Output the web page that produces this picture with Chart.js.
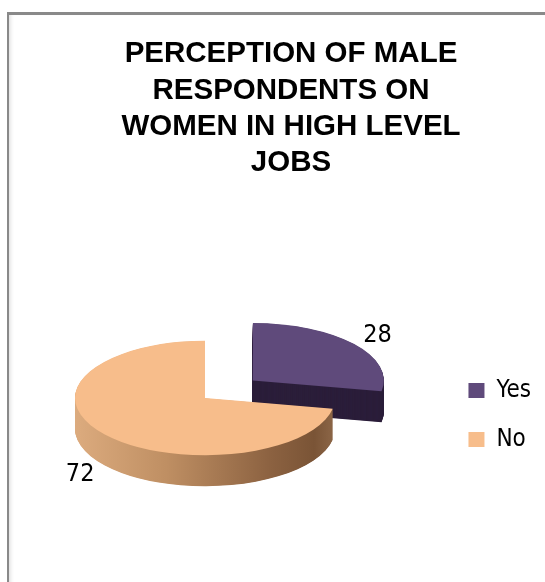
<!DOCTYPE html>
<html>
<head>
<meta charset="utf-8">
<script src="https://cdn.jsdelivr.net/npm/chart.js@4.4.1/dist/chart.umd.min.js"></script>
<style>
  html, body { margin: 0; padding: 0; background: #fff; overflow: hidden; width: 545px; height: 582px; }
  #frame {
    position: absolute; left: 7px; top: 12px; width: 600px; height: 600px;
    border-top: 3px solid #898989; border-left: 2px solid #898989;
    box-shadow: inset 4px 0 4px -3px #d8d8d8;
  }
  #c { position: absolute; left: 0; top: 0; }
</style>
</head>
<body>
<div id="frame"><canvas id="c" width="536" height="567"></canvas></div>
<script>
// ---- data ----
const categories = ['Yes', 'No'];
const values = [28, 72];
const titleLines = ['PERCEPTION OF MALE', 'RESPONDENTS ON', 'WOMEN IN HIGH LEVEL', 'JOBS'];

// ---- style ----
const topColors = ['#5f4a7b', '#f7bd8b'];
const explode = [248, 0];
const TILT = 0.44;      // vertical squash of the 3D view
const DEPTH = 31;       // thickness of the pie
const LABEL_GAP = 32;
const PLOT = { left: 66, right: 326, top: 253, bottom: 513 };
const NARROW = '"Liberation Sans Narrow", "Arial Narrow", "DejaVu Sans Condensed", sans-serif';

const pie3d = {
  id: 'pie3d',
  afterLayout(chart) {
    const a = chart.chartArea;
    a.left = PLOT.left; a.right = PLOT.right; a.top = PLOT.top; a.bottom = PLOT.bottom;
    a.width = PLOT.right - PLOT.left; a.height = PLOT.bottom - PLOT.top;
  },
  beforeDatasetsDraw(chart) {
    const ctx = chart.ctx;
    const meta = chart.getDatasetMeta(0);
    const a = chart.chartArea;
    const cy = (a.top + a.bottom) / 2;
    const cx = (a.left + a.right) / 2;
    const R = meta.data[0].outerRadius;
    const gOrange = ctx.createLinearGradient(cx - R, 0, cx + R, 0);
    gOrange.addColorStop(0, '#dcab7e');
    gOrange.addColorStop(0.35, '#bf8f63');
    gOrange.addColorStop(0.75, '#8c6241');
    gOrange.addColorStop(0.92, '#7a5436');
    gOrange.addColorStop(1, '#8d6748');
    const sides = ['#2b1e3a', gOrange];
    const drawOrder = [0, 1];
    drawOrder.forEach(i => {
      const arc = meta.data[i];
      for (let t = DEPTH; t >= 0; t -= 0.5) {
        const proxy = Object.create(arc);
        proxy.options = Object.assign({}, arc.options, { backgroundColor: t === 0 ? arc.options.backgroundColor : sides[i] });
        ctx.save();
        ctx.translate(0, cy + t);
        ctx.scale(1, TILT);
        ctx.translate(0, -cy);
        Chart.ArcElement.prototype.draw.call(proxy, ctx);
        ctx.restore();
      }
    });
    // value labels
    ctx.save();
    ctx.font = '25px ' + NARROW;
    ctx.fillStyle = '#000';
    ctx.textAlign = 'center';
    ctx.textBaseline = 'middle';
    meta.data.forEach((arc, i) => {
      const h = (arc.startAngle + arc.endAngle) / 2;
      const off = (arc.options.offset || 0) / 4;
      const r = arc.outerRadius + LABEL_GAP + off;
      const px = arc.x + Math.cos(h) * r;
      const py0 = arc.y + Math.sin(h) * r;
      const py = cy + TILT * (py0 - cy) + (Math.sin(h) > 0 ? DEPTH : 0);
      ctx.fillText(String(values[i]), px, py);
    });
    ctx.restore();
    return false;
  }
};

new Chart(document.getElementById('c'), {
  type: 'pie',
  data: {
    labels: categories,
    datasets: [{
      data: values,
      backgroundColor: topColors,
      borderWidth: 0,
      offset: explode,
      hoverOffset: 0
    }]
  },
  options: {
    responsive: false,
    animation: false,
    radius: 130,
    layout: { padding: { left: 32, right: 4, top: 0, bottom: 0 } },
    plugins: {
      title: {
        display: true,
        text: titleLines,
        color: '#000',
        font: { family: '"Liberation Sans", Arial, sans-serif', size: 29.5, weight: 'bold', lineHeight: 1.23 },
        padding: { top: 21, bottom: 67 }
      },
      legend: {
        position: 'right',
        fullSize: false,
        labels: {
          color: '#000',
          font: { family: NARROW, size: 24 },
          boxWidth: 16,
          boxHeight: 15,
          padding: 25
        }
      },
      tooltip: { enabled: false }
    }
  },
  plugins: [pie3d]
});
</script>
</body>
</html>
